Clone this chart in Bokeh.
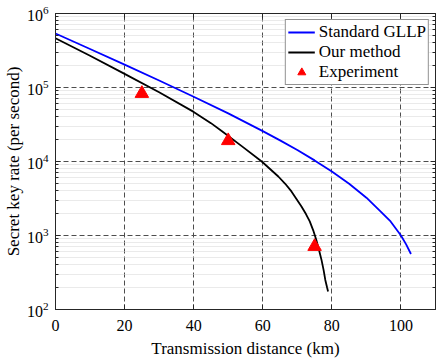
from bokeh.plotting import figure
from bokeh.models import FixedTicker, LogAxis, LinearAxis, Legend, LegendItem, Range1d
from bokeh.embed import file_html
from bokeh.resources import INLINE

# Standard GLLP curve
std_km = [0, 10, 20, 30, 40, 50, 60, 65, 70, 75, 80, 85, 90, 94, 97, 100, 101.5, 102.9]
std_rate = [5.37e5, 3.31e5, 2.04e5, 1.245e5, 7.5e4, 4.47e4, 2.57e4, 1.93e4, 1.43e4, 1.035e4,
            7.33e3, 5.01e3, 3.24e3, 2.14e3, 1.55e3, 1.0e3, 7.59e2, 5.62e2]

# Our method curve
our_km = [0, 10, 20, 30, 40, 45, 48.2, 54, 59.7, 64.5, 66.5, 68.3, 71.2, 72.5, 73.6, 74.6,
          75.5, 76.3, 77.0, 77.6, 78.1, 78.6, 78.9]
our_rate = [4.62e5, 2.69e5, 1.53e5, 8.61e4, 4.68e4, 3.3e4, 2.57e4, 1.6e4, 1.0e4, 6.27e3,
            5.0e3, 3.94e3, 2.47e3, 1.95e3, 1.55e3, 1.175e3, 8.7e2, 6.31e2, 4.68e2, 3.43e2,
            2.51e2, 2.0e2, 1.75e2]

# Experiment points
exp_km = [25, 50, 75]
exp_rate = [8.3e4, 1.91e4, 7.1e2]

x_ticks = [0, 20, 40, 60, 80, 100]
y_ticks = [1e2, 1e3, 1e4, 1e5, 1e6]
y_minor = [m * 10 ** k for k in range(2, 6) for m in range(2, 10)]

FONT = "Liberation Serif"

p = figure(width=442, height=362, y_axis_type="log",
           x_range=Range1d(0, 110), y_range=Range1d(1e2, 1e6),
           output_backend="svg", toolbar_location=None,
           min_border_left=52, min_border_right=7, min_border_top=13, min_border_bottom=53)

p.outline_line_color = "#262626"
p.outline_line_width = 1

xt = FixedTicker(ticks=x_ticks)
yt = FixedTicker(ticks=y_ticks, minor_ticks=y_minor)

for ax in p.xaxis:
    ax.ticker = xt
for ax in p.yaxis:
    ax.ticker = yt

p.xgrid.ticker = xt
p.ygrid.ticker = yt

for ax in list(p.xaxis) + list(p.yaxis):
    ax.axis_line_color = "#262626"
    ax.major_tick_line_color = "#262626"
    ax.minor_tick_line_color = "#262626"
    ax.major_tick_in = 5
    ax.major_tick_out = 0
    ax.minor_tick_in = 3
    ax.minor_tick_out = 0
    ax.major_label_text_font = FONT
    ax.major_label_text_font_size = "16px"
    ax.major_label_text_color = "black"
    ax.axis_label_text_font = FONT
    ax.axis_label_text_font_size = "17px"
    ax.axis_label_text_font_style = "normal"
    ax.axis_label_text_color = "black"

p.xaxis.minor_tick_line_color = None
p.xaxis.axis_label = "Transmission distance (km)"
p.xaxis.major_label_standoff = 10
p.xaxis.axis_label_standoff = 5
p.yaxis.axis_label = "Secret key rate (per second)"
p.yaxis.major_label_standoff = 7
p.yaxis.axis_label_standoff = 1

top_ax = LinearAxis(ticker=xt, major_label_text_font_size="1px", major_label_text_color=None,
                    major_label_standoff=0,
                    major_tick_in=5, major_tick_out=0, minor_tick_line_color=None,
                    axis_line_color="#262626", major_tick_line_color="#262626")
right_ax = LogAxis(ticker=yt, major_label_text_font_size="1px", major_label_text_color=None,
                   major_label_standoff=0,
                   major_tick_in=5, major_tick_out=0, minor_tick_in=3, minor_tick_out=0,
                   axis_line_color="#262626", major_tick_line_color="#262626",
                   minor_tick_line_color="#262626")
p.add_layout(top_ax, "above")
p.add_layout(right_ax, "right")

p.xgrid.grid_line_color = "#4d4d4d"
p.xgrid.grid_line_dash = "5 3"
p.xgrid.grid_line_width = 1
p.ygrid.grid_line_color = "#4d4d4d"
p.ygrid.grid_line_dash = "5 3"
p.ygrid.grid_line_width = 1
p.ygrid.minor_grid_line_color = "#d4d4d4"
p.ygrid.minor_grid_line_dash = "1 1"
p.ygrid.minor_grid_line_width = 1

r_std = p.line(std_km, std_rate, line_color="#0000ff", line_width=1.8)
r_our = p.line(our_km, our_rate, line_color="black", line_width=1.8)
r_exp = p.scatter(exp_km, exp_rate, marker="triangle", size=13.5,
                  fill_color="#ff0000", line_color="#ff0000")

legend = Legend(items=[LegendItem(label="Standard GLLP", renderers=[r_std]),
                       LegendItem(label="Our method", renderers=[r_our]),
                       LegendItem(label="Experiment", renderers=[r_exp])],
                location="top_right", margin=6, padding=2, spacing=0,
                label_standoff=4, glyph_width=27, glyph_height=20, label_height=20,
                label_text_font=FONT, label_text_font_size="17px",
                label_text_color="black",
                border_line_color="#262626", border_line_width=1,
                background_fill_color="white", background_fill_alpha=1)
p.add_layout(legend, "center")

open("out.html", "w").write(file_html(p, INLINE))
